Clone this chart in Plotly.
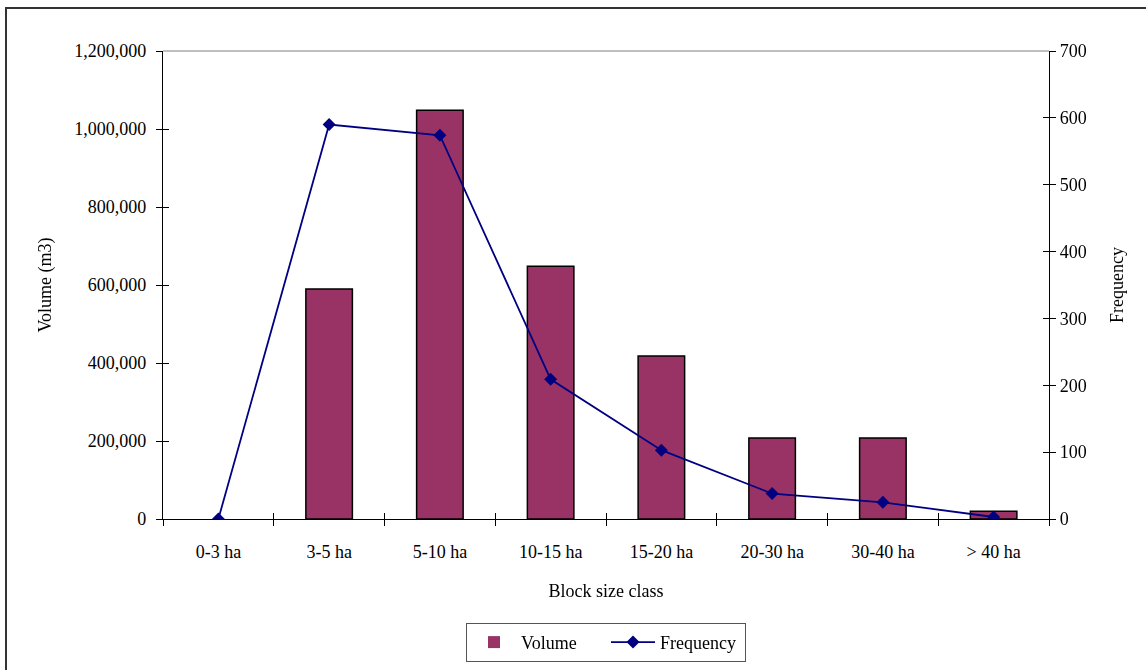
import plotly.graph_objects as go

# Harvest volume and number of blocks by block size class
size_classes = ["0-3 ha", "3-5 ha", "5-10 ha", "10-15 ha", "15-20 ha", "20-30 ha", "30-40 ha", "> 40 ha"]
volume_m3 = [0, 590000, 1048000, 648000, 418000, 208000, 208000, 20000]
frequency = [0, 590, 574, 209, 103, 38, 25, 3]

vol_ticks = [0, 200000, 400000, 600000, 800000, 1000000, 1200000]
vol_tick_text = ["0", "200,000", "400,000", "600,000", "800,000", "1,000,000", "1,200,000"]
freq_ticks = [0, 100, 200, 300, 400, 500, 600, 700]

FONT = "Liberation Serif, Times New Roman, serif"
BAR_COLOR = "#993366"
LINE_COLOR = "#000080"

fig = go.Figure()

# empty classes get no outline so nothing is drawn for them
bar_outline = [1.5 if v > 0 else 0 for v in volume_m3]

fig.add_trace(go.Bar(
    x=size_classes, y=volume_m3, name="Volume",
    width=0.42,
    marker=dict(color=BAR_COLOR, line=dict(color="black", width=bar_outline)),
))

fig.add_trace(go.Scatter(
    x=size_classes, y=frequency, name="Frequency", yaxis="y2",
    mode="lines+markers",
    line=dict(color=LINE_COLOR, width=1.8),
    marker=dict(symbol="diamond", size=10, color=LINE_COLOR),
))

# Companion axes that draw the inner half of each tick mark
fig.add_trace(go.Scatter(
    x=size_classes, y=volume_m3, xaxis="x2", yaxis="y3",
    mode="markers", opacity=0, showlegend=False, hoverinfo="skip",
))
fig.add_trace(go.Scatter(
    x=size_classes, y=frequency, xaxis="x2", yaxis="y4",
    mode="markers", opacity=0, showlegend=False, hoverinfo="skip",
))

axis_font = dict(family=FONT, size=18, color="black")

fig.update_layout(
    width=1146, height=670,
    margin=dict(l=163, r=97, t=51, b=151, autoexpand=False),
    paper_bgcolor="white", plot_bgcolor="white",
    font=axis_font,
    showlegend=True,
    legend=dict(
        orientation="h", x=0.5, xanchor="center", y=-0.222, yanchor="top",
        bordercolor="#555555", borderwidth=1, font=axis_font,
        itemwidth=44, tracegroupgap=0, entrywidth=80,
    ),
    xaxis=dict(
        type="category", categoryorder="array", categoryarray=size_classes,
        range=[-0.5, 7.5], automargin=False,
        showline=True, linecolor="black", linewidth=1.2,
        ticks="outside", tickson="boundaries", ticklen=6, tickcolor="black", tickwidth=1,
        ticklabelstandoff=16,
        showgrid=False, zeroline=False,
        title=dict(text="Block size class", font=axis_font, standoff=23),
    ),
    xaxis2=dict(
        type="category", categoryorder="array", categoryarray=size_classes,
        range=[-0.5, 7.5], overlaying="x", anchor="y", automargin=False,
        ticks="inside", tickson="boundaries", ticklen=6, tickcolor="black", tickwidth=1,
        showticklabels=False, showgrid=False, zeroline=False, showline=False,
    ),
    yaxis=dict(
        range=[0, 1200000], tickvals=vol_ticks, ticktext=vol_tick_text, automargin=False,
        showline=True, linecolor="black", linewidth=1.2,
        ticks="outside", ticklen=6, tickcolor="black", tickwidth=1,
        ticklabelstandoff=6,
        showgrid=False, zeroline=False,
        title=dict(text="Volume (m3)", font=axis_font, standoff=17),
    ),
    yaxis2=dict(
        range=[0, 700], tickvals=freq_ticks, automargin=False,
        overlaying="y", side="right", anchor="x",
        showline=True, linecolor="black", linewidth=1.2,
        ticks="outside", ticklen=6, tickcolor="black", tickwidth=1,
        ticklabelstandoff=0,
        showgrid=False, zeroline=False,
        title=dict(text="Frequency", font=axis_font, standoff=24),
    ),
    yaxis3=dict(
        range=[0, 1200000], tickvals=vol_ticks, overlaying="y", anchor="x2", side="left",
        automargin=False,
        ticks="inside", ticklen=6, tickcolor="black", tickwidth=1,
        showticklabels=False, showgrid=False, zeroline=False, showline=False,
    ),
    yaxis4=dict(
        range=[0, 700], tickvals=freq_ticks, overlaying="y", anchor="x2", side="right",
        automargin=False,
        ticks="inside", ticklen=6, tickcolor="black", tickwidth=1,
        showticklabels=False, showgrid=False, zeroline=False, showline=False,
    ),
    shapes=[
        # top edge of the plot area
        dict(type="line", xref="paper", yref="paper", x0=0, x1=1, y0=1, y1=1,
             line=dict(color="#808080", width=1.2)),
        # outer chart frame
        dict(type="rect", xref="paper", yref="paper",
             x0=-0.1772, x1=1.2, y0=-0.4, y1=1.0919,
             line=dict(color="#333333", width=2), layer="below"),
    ],
)

fig.write_html("out.html")
